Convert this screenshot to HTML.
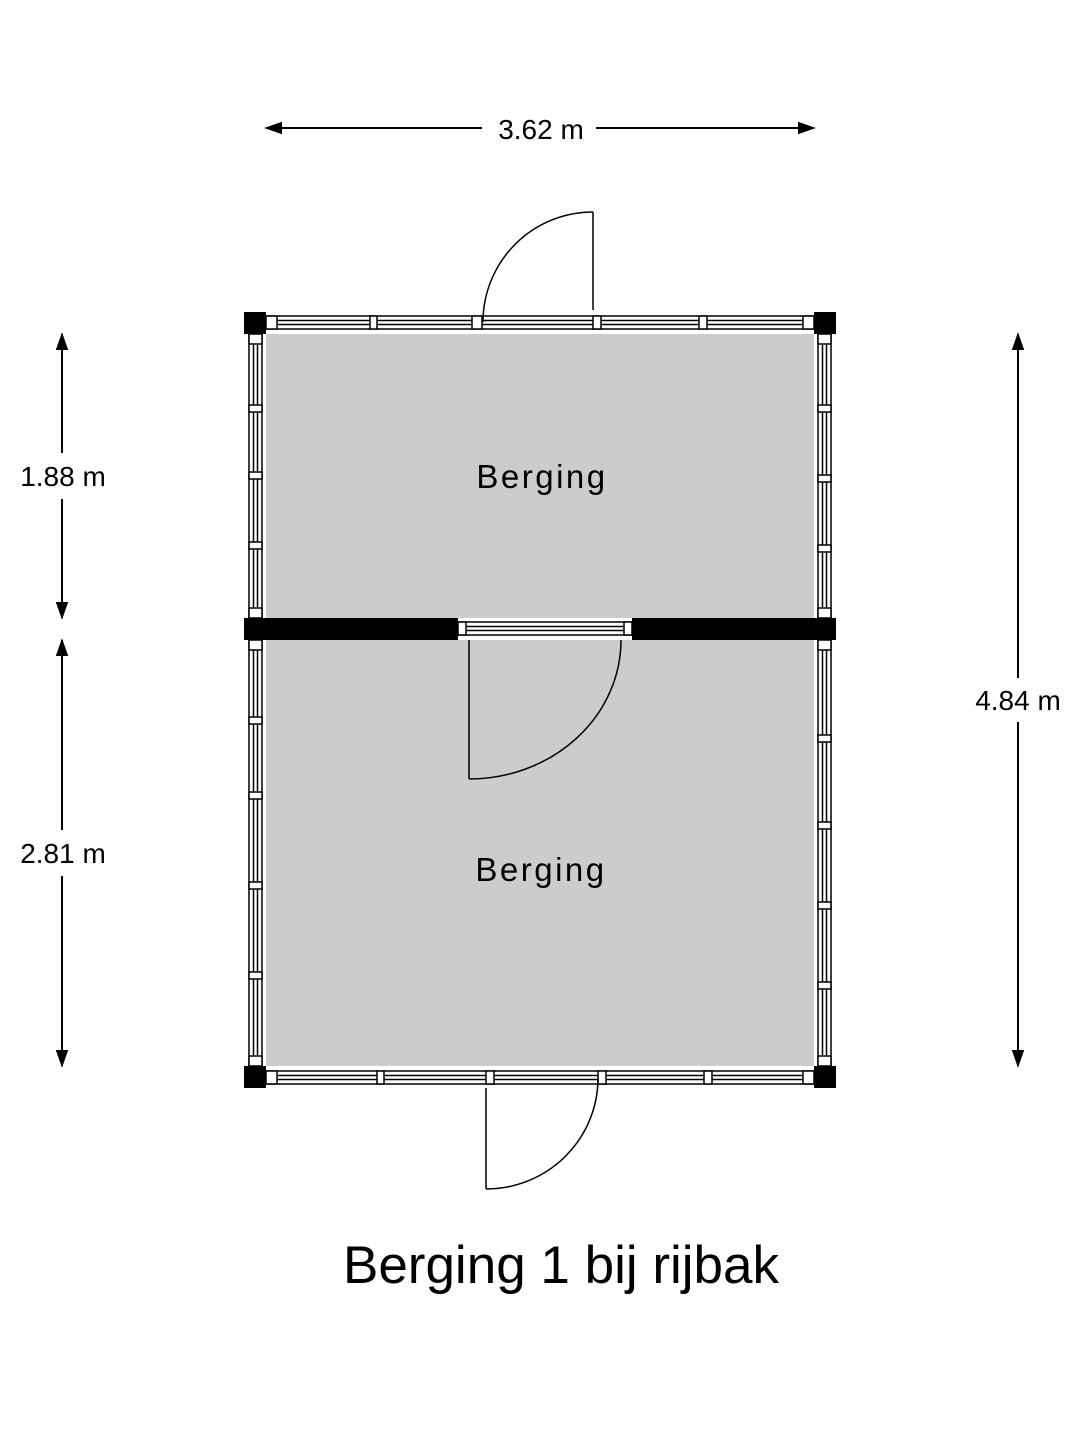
<!DOCTYPE html>
<html><head><style>body{margin:0;background:#fff}svg{display:block}text{font-family:"Liberation Sans",sans-serif;fill:#000}</style></head>
<body>
<svg width="1080" height="1440" viewBox="0 0 1080 1440" xmlns="http://www.w3.org/2000/svg">
<defs>
<marker id="a" viewBox="0 0 10 10" refX="9" refY="5" markerWidth="9" markerHeight="9" orient="auto-start-reverse"><path d="M0,1.5 L10,5 L0,8.5z" fill="#000"/></marker>
</defs>
<rect x="266" y="334" width="548" height="284" fill="#cccccc"/>
<rect x="266" y="640" width="548" height="426" fill="#cccccc"/>
<g fill="#fff" stroke="#000" stroke-width="1.5">
<rect x="266" y="316" width="548" height="13"/>
<line x1="266" y1="320.5" x2="814" y2="320.5"/><line x1="266" y1="324.5" x2="814" y2="324.5"/>
<rect x="266" y="1071" width="548" height="13"/>
<line x1="266" y1="1075.5" x2="814" y2="1075.5"/><line x1="266" y1="1079.5" x2="814" y2="1079.5"/>
<rect x="249" y="334" width="13" height="284"/><rect x="249" y="640" width="13" height="426"/>
<line x1="253.5" y1="334" x2="253.5" y2="1066"/><line x1="257.5" y1="334" x2="257.5" y2="1066"/>
<rect x="818" y="334" width="13" height="284"/><rect x="818" y="640" width="13" height="426"/>
<line x1="822.5" y1="334" x2="822.5" y2="1066"/><line x1="826.5" y1="334" x2="826.5" y2="1066"/>
<rect x="458" y="622" width="174" height="13"/>
<line x1="466" y1="626.5" x2="624" y2="626.5"/><line x1="466" y1="630.5" x2="624" y2="630.5"/>
<rect x="458" y="622" width="8" height="13"/><rect x="624" y="622" width="8" height="13"/>
</g>
<g fill="#fff" stroke="#000" stroke-width="1.5">
<rect x="266" y="316" width="11" height="13"/><rect x="370" y="316" width="7" height="13"/><rect x="472" y="316" width="10" height="13"/><rect x="593" y="316" width="8" height="13"/><rect x="699" y="316" width="8" height="13"/><rect x="803" y="316" width="11" height="13"/>
<rect x="266" y="1071" width="11" height="13"/><rect x="377" y="1071" width="7" height="13"/><rect x="486" y="1071" width="8" height="13"/><rect x="598" y="1071" width="8" height="13"/><rect x="704" y="1071" width="8" height="13"/><rect x="803" y="1071" width="11" height="13"/>
<rect x="249" y="334" width="13" height="10"/><rect x="249" y="405" width="13" height="7"/><rect x="249" y="472" width="13" height="7"/><rect x="249" y="542" width="13" height="7"/><rect x="249" y="608" width="13" height="10"/>
<rect x="249" y="640" width="13" height="10"/><rect x="249" y="717" width="13" height="7"/><rect x="249" y="792" width="13" height="7"/><rect x="249" y="882" width="13" height="7"/><rect x="249" y="972" width="13" height="7"/><rect x="249" y="1056" width="13" height="10"/>
<rect x="818" y="334" width="13" height="10"/><rect x="818" y="405" width="13" height="7"/><rect x="818" y="475" width="13" height="7"/><rect x="818" y="545" width="13" height="7"/><rect x="818" y="608" width="13" height="10"/>
<rect x="818" y="640" width="13" height="10"/><rect x="818" y="735" width="13" height="7"/><rect x="818" y="822" width="13" height="7"/><rect x="818" y="902" width="13" height="7"/><rect x="818" y="982" width="13" height="7"/><rect x="818" y="1056" width="13" height="10"/>
</g>
<g fill="#000">
<rect x="244" y="312" width="22" height="22"/><rect x="814" y="312" width="22" height="22"/>
<rect x="244" y="1066" width="22" height="22"/><rect x="814" y="1066" width="22" height="22"/>
<rect x="244" y="618" width="214" height="22"/><rect x="632" y="618" width="204" height="22"/>
</g>
<g fill="none" stroke="#000" stroke-width="1.5">
<line x1="593" y1="212" x2="593" y2="310"/><path d="M593,212 A110,110 0 0 0 483,322"/>
<line x1="469" y1="640" x2="469" y2="779"/><path d="M469,779 A152,139 0 0 0 621,640"/>
<line x1="486" y1="1088" x2="486" y2="1189"/><path d="M486,1189 A112,111 0 0 0 598,1078"/>
</g>
<g stroke="#000" stroke-width="2" fill="none">
<line x1="266" y1="128" x2="482" y2="128" marker-start="url(#a)"/><line x1="596" y1="128" x2="814" y2="128" marker-end="url(#a)"/>
<line x1="62" y1="334" x2="62" y2="453" marker-start="url(#a)"/><line x1="62" y1="499" x2="62" y2="618" marker-end="url(#a)"/>
<line x1="62" y1="640" x2="62" y2="830" marker-start="url(#a)"/><line x1="62" y1="876" x2="62" y2="1066" marker-end="url(#a)"/>
<line x1="1018" y1="334" x2="1018" y2="678" marker-start="url(#a)"/><line x1="1018" y1="722" x2="1018" y2="1066" marker-end="url(#a)"/>
</g>
<g font-size="28" text-anchor="middle">
<text x="541" y="139">3.62 m</text>
<text x="63" y="486">1.88 m</text>
<text x="63" y="863">2.81 m</text>
<text x="1018" y="710">4.84 m</text>
</g>
<g font-size="33" text-anchor="middle" letter-spacing="2.5">
<text x="542" y="488">Berging</text>
<text x="541" y="881">Berging</text>
</g>
<text x="561" y="1283" font-size="53" text-anchor="middle">Berging 1 bij rijbak</text>
</svg>
</body></html>
